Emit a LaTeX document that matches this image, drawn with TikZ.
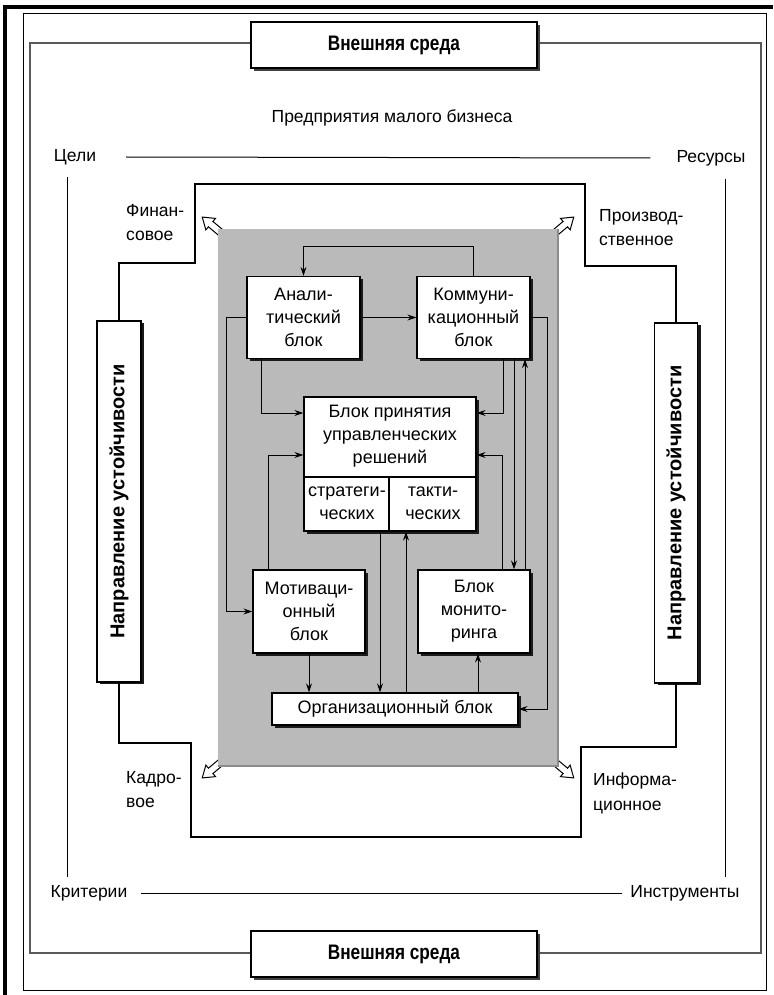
\documentclass[tikz,border=0pt]{standalone}
\usepackage{fontspec}
\setmainfont{Liberation Sans}
\newfontfamily\headfont{Liberation Sans}[FakeStretch=0.82]
\usetikzlibrary{arrows.meta,shadows}
\newcommand\hollowarrow[2]{%
  \draw[line width=1pt,fill=white,shift={(#1)},rotate=#2]
    (0,-3.5)--(20,-3.5)--(20,-7.5)--(31,0)--(20,7.5)--(20,3.5)--(0,3.5)--cycle;}
\begin{document}
\begin{tikzpicture}[x=1pt,y=-1pt,
  blk/.style={draw=black,line width=1.2pt,fill=white,align=center,inner sep=0pt,
     font=\fontsize{18}{23}\selectfont,
     drop shadow={shadow xshift=2.5pt,shadow yshift=-2.5pt,fill=black,opacity=0.85}},
  arr/.style={line width=1pt,-{Stealth[length=9pt,width=6pt]}},
  plain/.style={line width=1pt},
  lbl/.style={align=left,anchor=north west,inner sep=0pt,font=\fontsize{17.5}{24.5}\selectfont},
  txt/.style={inner sep=0pt,font=\fontsize{17.5}{22}\selectfont},
  btxt/.style={inner sep=0pt,align=center,font=\fontsize{18}{23}\selectfont},
  stepline/.style={line width=1.6pt},
  extbox/.style={draw=black,line width=1.2pt,fill=white,minimum width=286pt,minimum height=46pt,
     inner sep=0pt,font=\headfont\bfseries\fontsize{21}{24}\selectfont,
     drop shadow={shadow xshift=3pt,shadow yshift=-3pt,fill=black!75,opacity=1}},
  sidebox/.style={draw=black,line width=1.2pt,fill=white,inner sep=0pt,
     drop shadow={shadow xshift=3pt,shadow yshift=-2pt,fill=black,opacity=0.9}},
  sidetxt/.style={rotate=90,inner sep=0pt,font=\bfseries\fontsize{20}{22}\selectfont}
]
\useasboundingbox (0,0) rectangle (773,995);
% outer frames
\draw[line width=4pt] (5,995) -- (5,7) -- (773,7);
\draw[line width=1pt] (23,14) rectangle (766,990);
\draw[black!65,line width=1.4pt] (30,43) rectangle (761,953);
% external environment boxes
\node[extbox] (ext1) at (394,45) {Внешняя среда};
\node[extbox] (ext2) at (394,954) {Внешняя среда};
% enterprise labels
\node[txt] (pmb) at (392,118) {Предприятия малого бизнеса};
\node[txt] (goals) at (75,157) {Цели};
\node[txt] (res) at (711,158) {Ресурсы};
\node[txt] (crit) at (89,893) {Критерии};
\node[txt] (instr) at (685,893) {Инструменты};
\draw[plain] ([xshift=30pt]goals.east) -- ([xshift=-26pt]res.west);
\draw[plain] ([xshift=14pt]crit.east) -- ([xshift=-8pt]instr.west);
\coordinate (vl1) at (67,177); \coordinate (vl2) at (67,877);
\coordinate (vr1) at (725,179); \coordinate (vr2) at (725,877);
\draw[plain] (vl1) -- (vl2);
\draw[plain] (vr1) -- (vr2);
% stability direction boxes
\node[sidebox,minimum width=44pt,minimum height=361pt] (lbox) at (119,501.5) {};
\node[sidetxt] (ltxt) at (lbox.center) {Направление устойчивости};
\node[sidebox,minimum width=43pt,minimum height=360pt] (rbox) at (676,503) {};
\node[sidetxt] (rtxt) at (rbox.center) {Направление устойчивости};
% stepped outline
\draw[stepline] (lbox.north) |- (195,263) |- (585,184) |- (rbox.north |- 0,266) -- (rbox.north);
\draw[stepline] (lbox.south) |- (191,743) |- (581,837) |- (rbox.south |- 0,747) -- (rbox.south);
\node[lbl] (fin) at (126,204) {Финан-\\совое};
\node[lbl] (prod) at (599,209) {Производ-\\ственное};
\node[lbl] (kadr) at (126,771) {Кадро-\\вое};
\node[lbl] (inf) at (593,773) {Информа-\\ционное};
% hollow arrows at corners
\hollowarrow{226,237}{140}
\hollowarrow{550,237}{40}
\hollowarrow{226,758}{220}
\hollowarrow{550,758}{320}
% gray field
\fill[black!27] (218,229) rectangle (558,766);
\draw[black!45,line width=1.5pt] (558,229) -- (558,766) -- (218,766);
% blocks
\node[blk,minimum width=113pt,minimum height=82pt] (ana) at (303.5,317.5) {Анали-\\тический\\блок};
\node[blk,minimum width=113pt,minimum height=82pt] (kom) at (473.5,317.5) {Коммуни-\\кационный\\блок};
\node[blk,minimum width=172pt,minimum height=134pt] (dec) at (390,464) {};
\node[btxt] (dectxt) at (390,436) {Блок принятия\\управленческих\\решений};
\draw[line width=1.2pt] (dec.west |- 0,477) -- (dec.east |- 0,477);
\draw[line width=1.2pt] (389,477) -- (389,0 |- dec.south);
\node[btxt] (decs) at (347,503.5) {стратеги-\\ческих};
\node[btxt] (dect) at (433,503.5) {такти-\\ческих};
\node[blk,minimum width=112pt,minimum height=83pt] (mot) at (309,611.5) {Мотиваци-\\онный\\блок};
\node[blk,minimum width=112pt,minimum height=83pt] (mon) at (474,611.5) {Блок\\монито-\\ринга};
\node[blk,minimum width=246pt,minimum height=32pt] (org) at (395,709) {Организационный блок};
% connectors
\draw[arr] (ana.east) -- (kom.west);
\draw[arr] (kom.north) -- ++(0,-29) -| (ana.north);
\draw[arr] (261,0 |- ana.south) |- (dec.west |- 0,413);
\draw[arr] (268,0 |- mot.north) |- (dec.west |- 0,455);
\draw[arr] (ana.west) -- ++(-20,0) |- (mot.west);
\draw[arr] (503,0 |- kom.south) |- (dec.east |- 0,413);
\draw[arr] (502,0 |- mon.north) |- (dec.east |- 0,455);
\draw[arr] (514,0 |- kom.south) -- (514,0 |- mon.north);
\draw[arr] (525,0 |- mon.north) -- (525,0 |- kom.south);
\draw[arr] (kom.east) -- ++(17,0) |- (org.east);
\draw[arr] (mot.south) -- (mot.south |- org.north);
\draw[arr] (380,0 |- dec.south) -- (380,0 |- org.north);
\draw[arr] (406,0 |- org.north) -- (406,0 |- dec.south);
\draw[arr] (478,0 |- org.north) -- (478,0 |- mon.south);
\end{tikzpicture}
\end{document}
